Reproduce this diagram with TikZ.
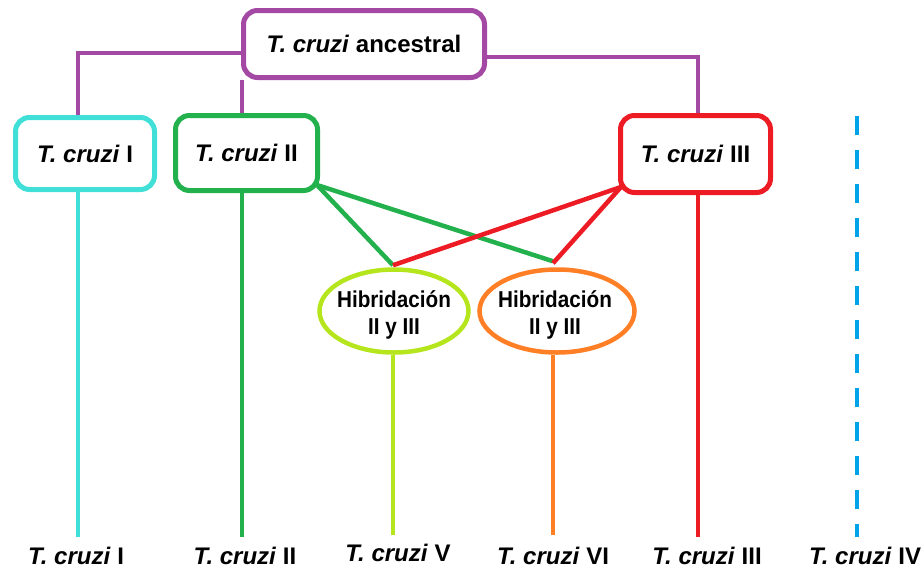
\documentclass[tikz,border=0pt]{standalone}
\usepackage{fontspec}
\setmainfont{Liberation Sans}
\usetikzlibrary{shapes.geometric}
\definecolor{cpurple}{HTML}{A349A4}
\definecolor{ccyan}{HTML}{40E0D8}
\definecolor{cgreen}{HTML}{22B14C}
\definecolor{cred}{HTML}{ED1C24}
\definecolor{clime}{HTML}{B5E61D}
\definecolor{corange}{HTML}{FF7F27}
\definecolor{cblue}{HTML}{00A2E8}
\newcommand{\hybtext}{\scalebox{0.9}[1]{\begin{tabular}{@{}c@{}}Hibridación\\[1pt]II y III\end{tabular}}}
\tikzset{
  box/.style={draw, line width=5pt, rounded corners=14pt, inner sep=0pt, align=center,
    font=\fontsize{24}{28}\selectfont\bfseries},
  hyb/.style={draw, ellipse, line width=4.5pt, inner sep=0pt, align=center,
    font=\fontsize{23}{26}\selectfont\bfseries},
  hybt/.style={inner sep=0pt, font=\fontsize{23}{26}\selectfont\bfseries},
  conn/.style={line width=4.5pt},
  lbl/.style={inner sep=0pt, font=\fontsize{24}{28}\selectfont\bfseries}
}
\begin{document}
\begin{tikzpicture}[x=1pt,y=-1pt]
\useasboundingbox (0,0) rectangle (923,571);
% boxes
\node[box, cpurple, minimum width=241pt, minimum height=67pt] (anc) at (364,44) {\color{black}\textit{T. cruzi} ancestral};
\node[box, ccyan, minimum width=139pt, minimum height=72pt] (c1) at (85,153.5) {\color{black}\textit{T. cruzi} I};
\node[box, cgreen, minimum width=142pt, minimum height=75pt] (c2) at (246.5,153) {\color{black}\textit{T. cruzi} II};
\node[box, cred, minimum width=150pt, minimum height=77pt] (c3) at (695.5,154) {\color{black}\textit{T. cruzi} III};
\node[hyb, clime, minimum width=149pt, minimum height=83pt] (h1) at (394,311) {};
\node[hyb, corange, minimum width=155pt, minimum height=83pt] (h2) at (557,311) {};
\node[hybt] (t1) at (394,316) {\hybtext};
\node[hybt] (t2) at (555,316) {\hybtext};
% bottom coordinates
\coordinate (b1) at (78,537);
\coordinate (b2) at (242,537);
\coordinate (b5) at (393,535);
\coordinate (b6) at (553,535);
\coordinate (b3) at (698,537);
\coordinate (b4top) at (857,116);
\coordinate (b4) at (857,537);
% purple connectors
\draw[conn, cpurple] ([yshift=-9pt]anc.west) -| ([xshift=-7pt]c1.north);
\draw[conn, cpurple] ([xshift=-4.5pt]c2.north) -- ([xshift=-4.5pt]c2.north |- anc.south);
\draw[conn, cpurple] ([yshift=-13pt]anc.east) -| ([xshift=2.5pt]c3.north);
% vertical lines
\draw[conn, ccyan] (c1.south -| b1) -- (b1);
\draw[conn, cgreen] (c2.south -| b2) -- (b2);
\draw[conn, cred] (c3.south -| b3) -- (b3);
\draw[conn, clime] (h1.south -| b5) -- (b5);
\draw[conn, corange] (h2.south -| b6) -- (b6);
\draw[conn, cblue, dash pattern=on 19pt off 15pt] (b4top) -- (b4);
% crossing lines
\coordinate (g) at ([xshift=-3pt,yshift=8pt]c2.south east);
\coordinate (r) at ([xshift=3pt,yshift=8pt]c3.south west);
\draw[conn, cgreen] (g) -- ([xshift=-1pt,yshift=2pt]h1.north);
\draw[conn, cgreen] (g) -- ([xshift=-4pt,yshift=6pt]h2.north);
\draw[conn, cred] (r) -- ([xshift=-1pt,yshift=2pt]h1.north);
\draw[conn, cred] (r) -- ([xshift=-4pt,yshift=4pt]h2.north);
% bottom labels
\node[lbl] (l1) at (76,556) {\textit{T. cruzi} I};
\node[lbl] (l2) at (245,556) {\textit{T. cruzi} II};
\node[lbl] (l5) at (398,553) {\textit{T. cruzi} V};
\node[lbl] (l6) at (553,556) {\textit{T. cruzi} VI};
\node[lbl] (l3) at (707,556) {\textit{T. cruzi} III};
\node[lbl] (l4) at (865,556) {\textit{T. cruzi} IV};
\end{tikzpicture}
\end{document}
